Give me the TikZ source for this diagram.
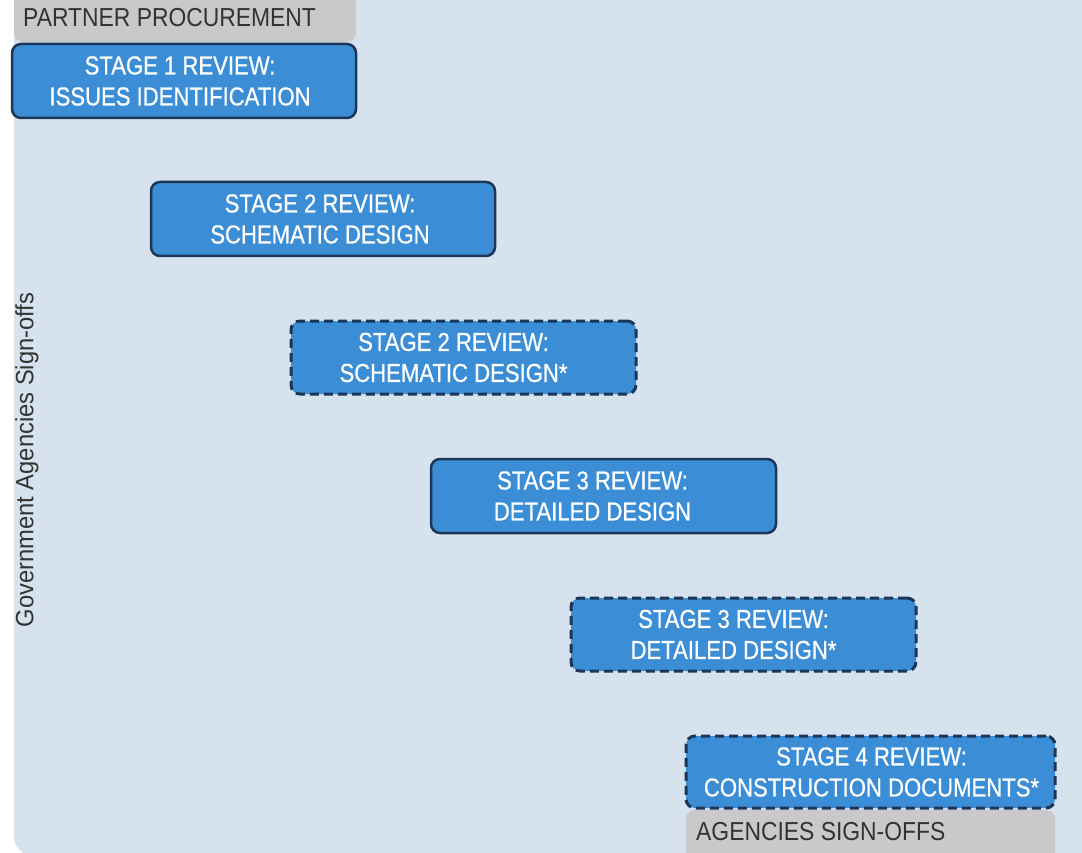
\documentclass[tikz,border=0pt]{standalone}
\usepackage{fontspec}
\newfontfamily\condfont[FakeStretch=0.85,FakeBold=0.6]{Liberation Sans}
\newfontfamily\greyfont[FakeStretch=0.88]{Liberation Sans}
\newfontfamily\sidefont[FakeStretch=0.95]{Liberation Sans}
\definecolor{bgblue}{HTML}{D6E3EF}
\definecolor{boxblue}{HTML}{3B8ED5}
\definecolor{navy}{HTML}{1C3657}
\definecolor{greybox}{HTML}{C9C9C9}
\definecolor{greytext}{HTML}{333333}
\tikzset{
  stagebox/.style={rectangle, rounded corners=9pt, fill=boxblue, draw=navy, line width=2.5pt, inner sep=0pt},
  dashbox/.style={stagebox, line width=3pt, dash pattern=on 9pt off 5pt},
  stagetext/.style={text=white, align=center, inner sep=0pt, font=\condfont\fontsize{26}{31}\selectfont},
  greylabel/.style={anchor=west, text=greytext, inner sep=0pt, font=\greyfont\fontsize{26}{31}\selectfont},
}
\begin{document}
\begin{tikzpicture}[x=1pt,y=-1pt]
\useasboundingbox (0,0) rectangle (1082,853);
\fill[white] (0,0) rectangle (1082,853);
% background panel
\fill[bgblue, rounded corners=20pt] (14,-30) rectangle (1110,856);
% grey bands
\fill[greybox, rounded corners=9pt] (14,-20) rectangle (356,42);
\node[greylabel] (pp) at (23,18) {PARTNER PROCUREMENT};
\fill[greybox, rounded corners=9pt] (686,810) rectangle (1055,870);
\node[greylabel] (as) at (696,832) {AGENCIES SIGN-OFFS};
% vertical label
\node[rotate=90, text=greytext, inner sep=0pt, font=\sidefont\fontsize{25}{28}\selectfont] (gov) at (27,460) {Government Agencies Sign-offs};
% stage boxes
\node[stagebox, minimum width=344pt, minimum height=74pt] (s1) at (184,81) {};
\node[stagetext] (t1) at ([xshift=-4pt]s1.center) {STAGE 1 REVIEW:\\ISSUES IDENTIFICATION};
\node[stagebox, minimum width=344pt, minimum height=74pt] (s2) at (323,219) {};
\node[stagetext] (t2) at ([xshift=-3pt]s2.center) {STAGE 2 REVIEW:\\SCHEMATIC DESIGN};
\node[dashbox, minimum width=345pt, minimum height=73pt] (s2b) at (463.5,357.5) {};
\node[stagetext] (t2b) at ([xshift=-10pt]s2b.center) {STAGE 2 REVIEW:\\SCHEMATIC DESIGN*};
\node[stagebox, minimum width=345pt, minimum height=74pt] (s3) at (603.5,496) {};
\node[stagetext] (t3) at ([xshift=-11pt]s3.center) {STAGE 3 REVIEW:\\DETAILED DESIGN};
\node[dashbox, minimum width=345pt, minimum height=73pt] (s3b) at (743.5,634.5) {};
\node[stagetext] (t3b) at ([xshift=-10pt]s3b.center) {STAGE 3 REVIEW:\\DETAILED DESIGN*};
\node[dashbox, minimum width=369pt, minimum height=72pt] (s4) at (870.5,772) {};
\node[stagetext] (t4) at ([xshift=1pt]s4.center) {STAGE 4 REVIEW:\\CONSTRUCTION DOCUMENTS*};
\end{tikzpicture}
\end{document}
